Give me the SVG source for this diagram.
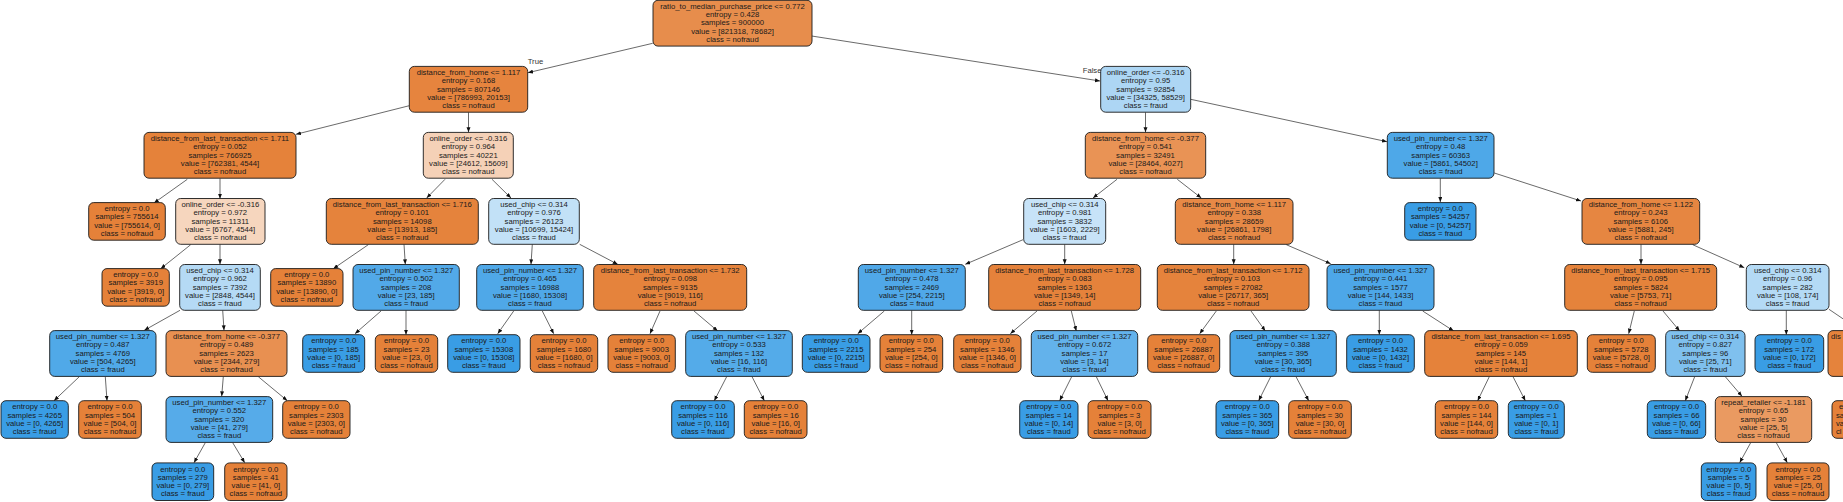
<svg xmlns="http://www.w3.org/2000/svg" width="1843" height="502" viewBox="0 0 1843 502">
<style>
.n rect{stroke:#1a1a1a;stroke-width:0.9}
text{font-family:"Liberation Sans",Arial,Helvetica,sans-serif;font-size:7.7px;fill:#1a1a1a;text-anchor:middle}
.e line{stroke:#2a2a2a;stroke-width:0.7;marker-end:url(#ah)}
.o{fill:#e58139}.b{fill:#399de5}
.lbl{text-anchor:start;fill:#333}
</style>
<defs>
<marker id="ah" markerUnits="userSpaceOnUse" markerWidth="6" markerHeight="5" refX="5" refY="2" orient="auto"><path d="M0,0 L5,2 L0,4 z" fill="#111"/></marker>
</defs>
<rect width="1843" height="502" fill="#fff"/>
<text class="lbl" x="527.7" y="64">True</text>
<text class="lbl" x="1082.7" y="73">False</text>
<g id="edges" class="e">
<line x1="652.7" y1="43.3" x2="528" y2="72.7"/>
<line x1="811.7" y1="36" x2="1100" y2="81"/>
<line x1="409.3" y1="105.7" x2="296" y2="134.3"/>
<line x1="468.5" y1="112.3" x2="468.5" y2="132.3"/>
<line x1="1145.5" y1="112.3" x2="1145.5" y2="132.3"/>
<line x1="1190.7" y1="99.3" x2="1387" y2="141.7"/>
<line x1="187.3" y1="179.3" x2="154" y2="203"/>
<line x1="220" y1="178.3" x2="220" y2="198.7"/>
<line x1="445" y1="179.3" x2="426.7" y2="198"/>
<line x1="492" y1="179.3" x2="511" y2="198"/>
<line x1="1117" y1="179.3" x2="1093" y2="198"/>
<line x1="1177.3" y1="179.3" x2="1201.3" y2="198"/>
<line x1="1440.3" y1="178.3" x2="1440.3" y2="202"/>
<line x1="1494.3" y1="173" x2="1581" y2="201"/>
<line x1="190.7" y1="244.7" x2="160.7" y2="268.7"/>
<line x1="220" y1="244.3" x2="220" y2="264.3"/>
<line x1="368.3" y1="244.7" x2="333.3" y2="268.7"/>
<line x1="404" y1="244.3" x2="405.3" y2="264.3"/>
<line x1="532.3" y1="244.3" x2="531" y2="264.3"/>
<line x1="579.7" y1="244.3" x2="617.7" y2="264.3"/>
<line x1="1023" y1="239.7" x2="965.3" y2="264.3"/>
<line x1="1064.7" y1="244.3" x2="1064.7" y2="264.3"/>
<line x1="1233.7" y1="244.3" x2="1233.7" y2="264.3"/>
<line x1="1286.3" y1="244.7" x2="1330.7" y2="263.7"/>
<line x1="1641" y1="244.3" x2="1641" y2="264.3"/>
<line x1="1692.7" y1="244.7" x2="1744.3" y2="267.7"/>
<line x1="180" y1="310.3" x2="144.3" y2="330.3"/>
<line x1="222.7" y1="310.3" x2="224" y2="330.3"/>
<line x1="381" y1="311" x2="355" y2="333.7"/>
<line x1="406" y1="310.3" x2="406" y2="334.7"/>
<line x1="513.7" y1="311" x2="497.7" y2="333.7"/>
<line x1="542.3" y1="311" x2="553.7" y2="333.7"/>
<line x1="660" y1="311" x2="650" y2="333.7"/>
<line x1="694" y1="311" x2="717.7" y2="331"/>
<line x1="884.3" y1="311" x2="857.7" y2="333.7"/>
<line x1="911.7" y1="310.3" x2="911.7" y2="334.7"/>
<line x1="1037" y1="311" x2="1010.3" y2="333.7"/>
<line x1="1071.3" y1="311" x2="1076.3" y2="331"/>
<line x1="1216.3" y1="311" x2="1199.7" y2="333.7"/>
<line x1="1251" y1="311" x2="1265.3" y2="331"/>
<line x1="1379.3" y1="310.3" x2="1379.3" y2="334.7"/>
<line x1="1422.7" y1="311" x2="1453.7" y2="331"/>
<line x1="1634.3" y1="311" x2="1628.7" y2="333.7"/>
<line x1="1663" y1="311" x2="1679.7" y2="331"/>
<line x1="1786.3" y1="310.3" x2="1786.3" y2="334.7"/>
<line x1="1829" y1="309.3" x2="1861" y2="331"/>
<line x1="79.3" y1="376.7" x2="54" y2="400.7"/>
<line x1="105.3" y1="376.7" x2="107" y2="400.7"/>
<line x1="223.3" y1="376.7" x2="221.7" y2="396.3"/>
<line x1="258.3" y1="376.7" x2="287.3" y2="400.7"/>
<line x1="726.7" y1="376.7" x2="714.3" y2="400.7"/>
<line x1="752" y1="376.7" x2="764.3" y2="400.7"/>
<line x1="1071.7" y1="376.7" x2="1059.7" y2="400.7"/>
<line x1="1096.3" y1="376.7" x2="1108" y2="400.7"/>
<line x1="1270.7" y1="376.7" x2="1258.7" y2="400.7"/>
<line x1="1296" y1="376.7" x2="1308.7" y2="400.7"/>
<line x1="1489.3" y1="376.7" x2="1477.7" y2="400.7"/>
<line x1="1513" y1="376.7" x2="1525.3" y2="400.7"/>
<line x1="1694.7" y1="376.7" x2="1685.3" y2="400.7"/>
<line x1="1725.3" y1="376.7" x2="1742" y2="396.3"/>
<line x1="205.3" y1="442.7" x2="194" y2="462.7"/>
<line x1="232.7" y1="442.7" x2="244.7" y2="462.7"/>
<line x1="1750.7" y1="442.7" x2="1739.7" y2="462.7"/>
<line x1="1776.3" y1="442.7" x2="1787.3" y2="462.7"/>
</g>

<g id="n0" class="n"><rect x="653" y="0.3" width="159" height="45.8" rx="5" fill="#e78d4c"/><text y="8.9"><tspan x="732.5">ratio_to_median_purchase_price &lt;= 0.772</tspan><tspan x="732.5" dy="8.25">entropy = 0.428</tspan><tspan x="732.5" dy="8.25">samples = 900000</tspan><tspan x="732.5" dy="8.25">value = [821318, 78682]</tspan><tspan x="732.5" dy="8.25">class = nofraud</tspan></text></g>

<g id="n1" class="n"><rect x="409.3" y="66.4" width="118.4" height="45.8" rx="5" fill="#e6843e"/><text y="75"><tspan x="468.5">distance_from_home &lt;= 1.117</tspan><tspan x="468.5" dy="8.25">entropy = 0.168</tspan><tspan x="468.5" dy="8.25">samples = 807146</tspan><tspan x="468.5" dy="8.25">value = [786993, 20153]</tspan><tspan x="468.5" dy="8.25">class = nofraud</tspan></text></g>

<g id="n2" class="n"><rect x="1100.7" y="66.4" width="90" height="45.8" rx="5" fill="#add6f4"/><text y="75"><tspan x="1145.7">online_order &lt;= -0.316</tspan><tspan x="1145.7" dy="8.25">entropy = 0.95</tspan><tspan x="1145.7" dy="8.25">samples = 92854</tspan><tspan x="1145.7" dy="8.25">value = [34325, 58529]</tspan><tspan x="1145.7" dy="8.25">class = fraud</tspan></text></g>

<g id="n3" class="n"><rect x="144" y="132.4" width="152" height="45.8" rx="5" fill="#e5823a"/><text y="141"><tspan x="220">distance_from_last_transaction &lt;= 1.711</tspan><tspan x="220" dy="8.25">entropy = 0.052</tspan><tspan x="220" dy="8.25">samples = 766925</tspan><tspan x="220" dy="8.25">value = [762381, 4544]</tspan><tspan x="220" dy="8.25">class = nofraud</tspan></text></g>

<g id="n4" class="n"><rect x="423.3" y="132.4" width="90" height="45.8" rx="5" fill="#f5d1b7"/><text y="141"><tspan x="468.3">online_order &lt;= -0.316</tspan><tspan x="468.3" dy="8.25">entropy = 0.964</tspan><tspan x="468.3" dy="8.25">samples = 40221</tspan><tspan x="468.3" dy="8.25">value = [24612, 15609]</tspan><tspan x="468.3" dy="8.25">class = nofraud</tspan></text></g>

<g id="n5" class="n"><rect x="1085.3" y="132.4" width="120.4" height="45.8" rx="5" fill="#e99355"/><text y="141"><tspan x="1145.5">distance_from_home &lt;= -0.377</tspan><tspan x="1145.5" dy="8.25">entropy = 0.541</tspan><tspan x="1145.5" dy="8.25">samples = 32491</tspan><tspan x="1145.5" dy="8.25">value = [28464, 4027]</tspan><tspan x="1145.5" dy="8.25">class = nofraud</tspan></text></g>

<g id="n6" class="n"><rect x="1387.3" y="132.4" width="106.7" height="45.8" rx="5" fill="#4ea8e8"/><text y="141"><tspan x="1440.7">used_pin_number &lt;= 1.327</tspan><tspan x="1440.7" dy="8.25">entropy = 0.48</tspan><tspan x="1440.7" dy="8.25">samples = 60363</tspan><tspan x="1440.7" dy="8.25">value = [5861, 54502]</tspan><tspan x="1440.7" dy="8.25">class = fraud</tspan></text></g>

<g id="n7" class="n"><rect class="o" x="88.7" y="202.6" width="76.6" height="37.6" rx="5"/><text y="211.2"><tspan x="127">entropy = 0.0</tspan><tspan x="127" dy="8.25">samples = 755614</tspan><tspan x="127" dy="8.25">value = [755614, 0]</tspan><tspan x="127" dy="8.25">class = nofraud</tspan></text></g>

<g id="n8" class="n"><rect x="175.7" y="198.5" width="89.3" height="45.8" rx="5" fill="#f6d6be"/><text y="207.1"><tspan x="220.3">online_order &lt;= -0.316</tspan><tspan x="220.3" dy="8.25">entropy = 0.972</tspan><tspan x="220.3" dy="8.25">samples = 11311</tspan><tspan x="220.3" dy="8.25">value = [6767, 4544]</tspan><tspan x="220.3" dy="8.25">class = nofraud</tspan></text></g>

<g id="n9" class="n"><rect x="326.3" y="198.5" width="152" height="45.8" rx="5" fill="#e5833c"/><text y="207.1"><tspan x="402.3">distance_from_last_transaction &lt;= 1.716</tspan><tspan x="402.3" dy="8.25">entropy = 0.101</tspan><tspan x="402.3" dy="8.25">samples = 14098</tspan><tspan x="402.3" dy="8.25">value = [13913, 185]</tspan><tspan x="402.3" dy="8.25">class = nofraud</tspan></text></g>

<g id="n10" class="n"><rect x="488.7" y="198.5" width="90.6" height="45.8" rx="5" fill="#c2e1f7"/><text y="207.1"><tspan x="534">used_chip &lt;= 0.314</tspan><tspan x="534" dy="8.25">entropy = 0.976</tspan><tspan x="534" dy="8.25">samples = 26123</tspan><tspan x="534" dy="8.25">value = [10699, 15424]</tspan><tspan x="534" dy="8.25">class = fraud</tspan></text></g>

<g id="n11" class="n"><rect x="1023.7" y="198.5" width="82" height="45.8" rx="5" fill="#c7e3f8"/><text y="207.1"><tspan x="1064.7">used_chip &lt;= 0.314</tspan><tspan x="1064.7" dy="8.25">entropy = 0.981</tspan><tspan x="1064.7" dy="8.25">samples = 3832</tspan><tspan x="1064.7" dy="8.25">value = [1603, 2229]</tspan><tspan x="1064.7" dy="8.25">class = fraud</tspan></text></g>

<g id="n12" class="n"><rect x="1175.3" y="198.5" width="117.7" height="45.8" rx="5" fill="#e78946"/><text y="207.1"><tspan x="1234.2">distance_from_home &lt;= 1.117</tspan><tspan x="1234.2" dy="8.25">entropy = 0.338</tspan><tspan x="1234.2" dy="8.25">samples = 28659</tspan><tspan x="1234.2" dy="8.25">value = [26861, 1798]</tspan><tspan x="1234.2" dy="8.25">class = nofraud</tspan></text></g>

<g id="n13" class="n"><rect class="b" x="1404.7" y="202.6" width="71.3" height="37.6" rx="5"/><text y="211.2"><tspan x="1440.3">entropy = 0.0</tspan><tspan x="1440.3" dy="8.25">samples = 54257</tspan><tspan x="1440.3" dy="8.25">value = [0, 54257]</tspan><tspan x="1440.3" dy="8.25">class = fraud</tspan></text></g>

<g id="n14" class="n"><rect x="1582" y="198.5" width="117.7" height="45.8" rx="5" fill="#e68641"/><text y="207.1"><tspan x="1640.8">distance_from_home &lt;= 1.122</tspan><tspan x="1640.8" dy="8.25">entropy = 0.243</tspan><tspan x="1640.8" dy="8.25">samples = 6106</tspan><tspan x="1640.8" dy="8.25">value = [5881, 245]</tspan><tspan x="1640.8" dy="8.25">class = nofraud</tspan></text></g>

<g id="n15" class="n"><rect class="o" x="102" y="268.6" width="67.3" height="37.6" rx="5"/><text y="277.2"><tspan x="135.7">entropy = 0.0</tspan><tspan x="135.7" dy="8.25">samples = 3919</tspan><tspan x="135.7" dy="8.25">value = [3919, 0]</tspan><tspan x="135.7" dy="8.25">class = nofraud</tspan></text></g>

<g id="n16" class="n"><rect x="179.7" y="264.5" width="80.6" height="45.8" rx="5" fill="#b5daf5"/><text y="273.1"><tspan x="220">used_chip &lt;= 0.314</tspan><tspan x="220" dy="8.25">entropy = 0.962</tspan><tspan x="220" dy="8.25">samples = 7392</tspan><tspan x="220" dy="8.25">value = [2848, 4544]</tspan><tspan x="220" dy="8.25">class = fraud</tspan></text></g>

<g id="n17" class="n"><rect class="o" x="270.7" y="268.6" width="72.3" height="37.6" rx="5"/><text y="277.2"><tspan x="306.8">entropy = 0.0</tspan><tspan x="306.8" dy="8.25">samples = 13890</tspan><tspan x="306.8" dy="8.25">value = [13890, 0]</tspan><tspan x="306.8" dy="8.25">class = nofraud</tspan></text></g>

<g id="n18" class="n"><rect x="353" y="264.5" width="106.3" height="45.8" rx="5" fill="#52a9e8"/><text y="273.1"><tspan x="406.2">used_pin_number &lt;= 1.327</tspan><tspan x="406.2" dy="8.25">entropy = 0.502</tspan><tspan x="406.2" dy="8.25">samples = 208</tspan><tspan x="406.2" dy="8.25">value = [23, 185]</tspan><tspan x="406.2" dy="8.25">class = fraud</tspan></text></g>

<g id="n19" class="n"><rect x="476.7" y="264.5" width="106.6" height="45.8" rx="5" fill="#4fa8e8"/><text y="273.1"><tspan x="530">used_pin_number &lt;= 1.327</tspan><tspan x="530" dy="8.25">entropy = 0.465</tspan><tspan x="530" dy="8.25">samples = 16988</tspan><tspan x="530" dy="8.25">value = [1680, 15308]</tspan><tspan x="530" dy="8.25">class = fraud</tspan></text></g>

<g id="n20" class="n"><rect x="593.7" y="264.5" width="153" height="45.8" rx="5" fill="#e5833c"/><text y="273.1"><tspan x="670.2">distance_from_last_transaction &lt;= 1.732</tspan><tspan x="670.2" dy="8.25">entropy = 0.098</tspan><tspan x="670.2" dy="8.25">samples = 9135</tspan><tspan x="670.2" dy="8.25">value = [9019, 116]</tspan><tspan x="670.2" dy="8.25">class = nofraud</tspan></text></g>

<g id="n21" class="n"><rect x="858.3" y="264.5" width="107" height="45.8" rx="5" fill="#50a8e8"/><text y="273.1"><tspan x="911.8">used_pin_number &lt;= 1.327</tspan><tspan x="911.8" dy="8.25">entropy = 0.478</tspan><tspan x="911.8" dy="8.25">samples = 2469</tspan><tspan x="911.8" dy="8.25">value = [254, 2215]</tspan><tspan x="911.8" dy="8.25">class = fraud</tspan></text></g>

<g id="n22" class="n"><rect x="988.7" y="264.5" width="152" height="45.8" rx="5" fill="#e5823b"/><text y="273.1"><tspan x="1064.7">distance_from_last_transaction &lt;= 1.728</tspan><tspan x="1064.7" dy="8.25">entropy = 0.083</tspan><tspan x="1064.7" dy="8.25">samples = 1363</tspan><tspan x="1064.7" dy="8.25">value = [1349, 14]</tspan><tspan x="1064.7" dy="8.25">class = nofraud</tspan></text></g>

<g id="n23" class="n"><rect x="1157.3" y="264.5" width="151.7" height="45.8" rx="5" fill="#e5833c"/><text y="273.1"><tspan x="1233.2">distance_from_last_transaction &lt;= 1.712</tspan><tspan x="1233.2" dy="8.25">entropy = 0.103</tspan><tspan x="1233.2" dy="8.25">samples = 27082</tspan><tspan x="1233.2" dy="8.25">value = [26717, 365]</tspan><tspan x="1233.2" dy="8.25">class = nofraud</tspan></text></g>

<g id="n24" class="n"><rect x="1327" y="264.5" width="107" height="45.8" rx="5" fill="#4da7e8"/><text y="273.1"><tspan x="1380.5">used_pin_number &lt;= 1.327</tspan><tspan x="1380.5" dy="8.25">entropy = 0.441</tspan><tspan x="1380.5" dy="8.25">samples = 1577</tspan><tspan x="1380.5" dy="8.25">value = [144, 1433]</tspan><tspan x="1380.5" dy="8.25">class = fraud</tspan></text></g>

<g id="n25" class="n"><rect x="1564.7" y="264.5" width="152" height="45.8" rx="5" fill="#e5833b"/><text y="273.1"><tspan x="1640.7">distance_from_last_transaction &lt;= 1.715</tspan><tspan x="1640.7" dy="8.25">entropy = 0.095</tspan><tspan x="1640.7" dy="8.25">samples = 5824</tspan><tspan x="1640.7" dy="8.25">value = [5753, 71]</tspan><tspan x="1640.7" dy="8.25">class = nofraud</tspan></text></g>

<g id="n26" class="n"><rect x="1746.3" y="264.5" width="82.7" height="45.8" rx="5" fill="#b4daf5"/><text y="273.1"><tspan x="1787.7">used_chip &lt;= 0.314</tspan><tspan x="1787.7" dy="8.25">entropy = 0.96</tspan><tspan x="1787.7" dy="8.25">samples = 282</tspan><tspan x="1787.7" dy="8.25">value = [108, 174]</tspan><tspan x="1787.7" dy="8.25">class = fraud</tspan></text></g>

<g id="n27" class="n"><rect x="49.7" y="330.6" width="106.3" height="45.8" rx="5" fill="#50a9e8"/><text y="339.2"><tspan x="102.8">used_pin_number &lt;= 1.327</tspan><tspan x="102.8" dy="8.25">entropy = 0.487</tspan><tspan x="102.8" dy="8.25">samples = 4769</tspan><tspan x="102.8" dy="8.25">value = [504, 4265]</tspan><tspan x="102.8" dy="8.25">class = fraud</tspan></text></g>

<g id="n28" class="n"><rect x="166" y="330.6" width="121" height="45.8" rx="5" fill="#e89051"/><text y="339.2"><tspan x="226.5">distance_from_home &lt;= -0.377</tspan><tspan x="226.5" dy="8.25">entropy = 0.489</tspan><tspan x="226.5" dy="8.25">samples = 2623</tspan><tspan x="226.5" dy="8.25">value = [2344, 279]</tspan><tspan x="226.5" dy="8.25">class = nofraud</tspan></text></g>

<g id="n29" class="n"><rect class="b" x="302.7" y="334.7" width="62" height="37.6" rx="5"/><text y="343.3"><tspan x="333.7">entropy = 0.0</tspan><tspan x="333.7" dy="8.25">samples = 185</tspan><tspan x="333.7" dy="8.25">value = [0, 185]</tspan><tspan x="333.7" dy="8.25">class = fraud</tspan></text></g>

<g id="n30" class="n"><rect class="o" x="375.3" y="334.7" width="62.4" height="37.6" rx="5"/><text y="343.3"><tspan x="406.5">entropy = 0.0</tspan><tspan x="406.5" dy="8.25">samples = 23</tspan><tspan x="406.5" dy="8.25">value = [23, 0]</tspan><tspan x="406.5" dy="8.25">class = nofraud</tspan></text></g>

<g id="n31" class="n"><rect class="b" x="447.7" y="334.7" width="72.3" height="37.6" rx="5"/><text y="343.3"><tspan x="483.8">entropy = 0.0</tspan><tspan x="483.8" dy="8.25">samples = 15308</tspan><tspan x="483.8" dy="8.25">value = [0, 15308]</tspan><tspan x="483.8" dy="8.25">class = fraud</tspan></text></g>

<g id="n32" class="n"><rect class="o" x="530.3" y="334.7" width="67.4" height="37.6" rx="5"/><text y="343.3"><tspan x="564">entropy = 0.0</tspan><tspan x="564" dy="8.25">samples = 1680</tspan><tspan x="564" dy="8.25">value = [1680, 0]</tspan><tspan x="564" dy="8.25">class = nofraud</tspan></text></g>

<g id="n33" class="n"><rect class="o" x="608" y="334.7" width="67.3" height="37.6" rx="5"/><text y="343.3"><tspan x="641.7">entropy = 0.0</tspan><tspan x="641.7" dy="8.25">samples = 9003</tspan><tspan x="641.7" dy="8.25">value = [9003, 0]</tspan><tspan x="641.7" dy="8.25">class = nofraud</tspan></text></g>

<g id="n34" class="n"><rect x="685.7" y="330.6" width="106.6" height="45.8" rx="5" fill="#54abe9"/><text y="339.2"><tspan x="739">used_pin_number &lt;= 1.327</tspan><tspan x="739" dy="8.25">entropy = 0.533</tspan><tspan x="739" dy="8.25">samples = 132</tspan><tspan x="739" dy="8.25">value = [16, 116]</tspan><tspan x="739" dy="8.25">class = fraud</tspan></text></g>

<g id="n35" class="n"><rect class="b" x="802.3" y="334.7" width="67.7" height="37.6" rx="5"/><text y="343.3"><tspan x="836.2">entropy = 0.0</tspan><tspan x="836.2" dy="8.25">samples = 2215</tspan><tspan x="836.2" dy="8.25">value = [0, 2215]</tspan><tspan x="836.2" dy="8.25">class = fraud</tspan></text></g>

<g id="n36" class="n"><rect class="o" x="880" y="334.7" width="62.7" height="37.6" rx="5"/><text y="343.3"><tspan x="911.3">entropy = 0.0</tspan><tspan x="911.3" dy="8.25">samples = 254</tspan><tspan x="911.3" dy="8.25">value = [254, 0]</tspan><tspan x="911.3" dy="8.25">class = nofraud</tspan></text></g>

<g id="n37" class="n"><rect class="o" x="953.7" y="334.7" width="67.3" height="37.6" rx="5"/><text y="343.3"><tspan x="987.3">entropy = 0.0</tspan><tspan x="987.3" dy="8.25">samples = 1346</tspan><tspan x="987.3" dy="8.25">value = [1346, 0]</tspan><tspan x="987.3" dy="8.25">class = nofraud</tspan></text></g>

<g id="n38" class="n"><rect x="1031.3" y="330.6" width="106.4" height="45.8" rx="5" fill="#63b2eb"/><text y="339.2"><tspan x="1084.5">used_pin_number &lt;= 1.327</tspan><tspan x="1084.5" dy="8.25">entropy = 0.672</tspan><tspan x="1084.5" dy="8.25">samples = 17</tspan><tspan x="1084.5" dy="8.25">value = [3, 14]</tspan><tspan x="1084.5" dy="8.25">class = fraud</tspan></text></g>

<g id="n39" class="n"><rect class="o" x="1147.7" y="334.7" width="72" height="37.6" rx="5"/><text y="343.3"><tspan x="1183.7">entropy = 0.0</tspan><tspan x="1183.7" dy="8.25">samples = 26887</tspan><tspan x="1183.7" dy="8.25">value = [26887, 0]</tspan><tspan x="1183.7" dy="8.25">class = nofraud</tspan></text></g>

<g id="n40" class="n"><rect x="1230" y="330.6" width="106.3" height="45.8" rx="5" fill="#49a5e7"/><text y="339.2"><tspan x="1283.2">used_pin_number &lt;= 1.327</tspan><tspan x="1283.2" dy="8.25">entropy = 0.388</tspan><tspan x="1283.2" dy="8.25">samples = 395</tspan><tspan x="1283.2" dy="8.25">value = [30, 365]</tspan><tspan x="1283.2" dy="8.25">class = fraud</tspan></text></g>

<g id="n41" class="n"><rect class="b" x="1346.7" y="334.7" width="67.6" height="37.6" rx="5"/><text y="343.3"><tspan x="1380.5">entropy = 0.0</tspan><tspan x="1380.5" dy="8.25">samples = 1432</tspan><tspan x="1380.5" dy="8.25">value = [0, 1432]</tspan><tspan x="1380.5" dy="8.25">class = fraud</tspan></text></g>

<g id="n42" class="n"><rect x="1424.7" y="330.6" width="152.6" height="45.8" rx="5" fill="#e5823a"/><text y="339.2"><tspan x="1501">distance_from_last_transaction &lt;= 1.695</tspan><tspan x="1501" dy="8.25">entropy = 0.059</tspan><tspan x="1501" dy="8.25">samples = 145</tspan><tspan x="1501" dy="8.25">value = [144, 1]</tspan><tspan x="1501" dy="8.25">class = nofraud</tspan></text></g>

<g id="n43" class="n"><rect class="o" x="1587.3" y="334.7" width="68" height="37.6" rx="5"/><text y="343.3"><tspan x="1621.3">entropy = 0.0</tspan><tspan x="1621.3" dy="8.25">samples = 5728</tspan><tspan x="1621.3" dy="8.25">value = [5728, 0]</tspan><tspan x="1621.3" dy="8.25">class = nofraud</tspan></text></g>

<g id="n44" class="n"><rect x="1665.7" y="330.6" width="79.3" height="45.8" rx="5" fill="#7fc0ee"/><text y="339.2"><tspan x="1705.3">used_chip &lt;= 0.314</tspan><tspan x="1705.3" dy="8.25">entropy = 0.827</tspan><tspan x="1705.3" dy="8.25">samples = 96</tspan><tspan x="1705.3" dy="8.25">value = [25, 71]</tspan><tspan x="1705.3" dy="8.25">class = fraud</tspan></text></g>

<g id="n45" class="n"><rect class="b" x="1755" y="334.7" width="68.7" height="37.6" rx="5"/><text y="343.3"><tspan x="1789.3">entropy = 0.0</tspan><tspan x="1789.3" dy="8.25">samples = 172</tspan><tspan x="1789.3" dy="8.25">value = [0, 172]</tspan><tspan x="1789.3" dy="8.25">class = fraud</tspan></text></g>

<g id="n46" class="n"><rect x="1828" y="330.6" width="152" height="45.8" rx="5" fill="#e5833c"/><text class="lbl" x="1831" y="339.2" style="fill:#1a1a1a">dis</text></g>

<g id="n47" class="n"><rect class="b" x="1" y="400.7" width="67.3" height="37.6" rx="5"/><text y="409.3"><tspan x="34.7">entropy = 0.0</tspan><tspan x="34.7" dy="8.25">samples = 4265</tspan><tspan x="34.7" dy="8.25">value = [0, 4265]</tspan><tspan x="34.7" dy="8.25">class = fraud</tspan></text></g>

<g id="n48" class="n"><rect class="o" x="78.7" y="400.7" width="62.6" height="37.6" rx="5"/><text y="409.3"><tspan x="110">entropy = 0.0</tspan><tspan x="110" dy="8.25">samples = 504</tspan><tspan x="110" dy="8.25">value = [504, 0]</tspan><tspan x="110" dy="8.25">class = nofraud</tspan></text></g>

<g id="n49" class="n"><rect x="166" y="396.6" width="106.7" height="45.8" rx="5" fill="#56abe9"/><text y="405.2"><tspan x="219.3">used_pin_number &lt;= 1.327</tspan><tspan x="219.3" dy="8.25">entropy = 0.552</tspan><tspan x="219.3" dy="8.25">samples = 320</tspan><tspan x="219.3" dy="8.25">value = [41, 279]</tspan><tspan x="219.3" dy="8.25">class = fraud</tspan></text></g>

<g id="n50" class="n"><rect class="o" x="282.7" y="400.7" width="67.3" height="37.6" rx="5"/><text y="409.3"><tspan x="316.3">entropy = 0.0</tspan><tspan x="316.3" dy="8.25">samples = 2303</tspan><tspan x="316.3" dy="8.25">value = [2303, 0]</tspan><tspan x="316.3" dy="8.25">class = nofraud</tspan></text></g>

<g id="n51" class="n"><rect class="b" x="671.7" y="400.7" width="62.6" height="37.6" rx="5"/><text y="409.3"><tspan x="703">entropy = 0.0</tspan><tspan x="703" dy="8.25">samples = 116</tspan><tspan x="703" dy="8.25">value = [0, 116]</tspan><tspan x="703" dy="8.25">class = fraud</tspan></text></g>

<g id="n52" class="n"><rect class="o" x="744.3" y="400.7" width="62.7" height="37.6" rx="5"/><text y="409.3"><tspan x="775.7">entropy = 0.0</tspan><tspan x="775.7" dy="8.25">samples = 16</tspan><tspan x="775.7" dy="8.25">value = [16, 0]</tspan><tspan x="775.7" dy="8.25">class = nofraud</tspan></text></g>

<g id="n53" class="n"><rect class="b" x="1019.7" y="400.7" width="58.3" height="37.6" rx="5"/><text y="409.3"><tspan x="1048.8">entropy = 0.0</tspan><tspan x="1048.8" dy="8.25">samples = 14</tspan><tspan x="1048.8" dy="8.25">value = [0, 14]</tspan><tspan x="1048.8" dy="8.25">class = fraud</tspan></text></g>

<g id="n54" class="n"><rect class="o" x="1088" y="400.7" width="63" height="37.6" rx="5"/><text y="409.3"><tspan x="1119.5">entropy = 0.0</tspan><tspan x="1119.5" dy="8.25">samples = 3</tspan><tspan x="1119.5" dy="8.25">value = [3, 0]</tspan><tspan x="1119.5" dy="8.25">class = nofraud</tspan></text></g>

<g id="n55" class="n"><rect class="b" x="1216" y="400.7" width="62.7" height="37.6" rx="5"/><text y="409.3"><tspan x="1247.3">entropy = 0.0</tspan><tspan x="1247.3" dy="8.25">samples = 365</tspan><tspan x="1247.3" dy="8.25">value = [0, 365]</tspan><tspan x="1247.3" dy="8.25">class = fraud</tspan></text></g>

<g id="n56" class="n"><rect class="o" x="1288.7" y="400.7" width="62.6" height="37.6" rx="5"/><text y="409.3"><tspan x="1320">entropy = 0.0</tspan><tspan x="1320" dy="8.25">samples = 30</tspan><tspan x="1320" dy="8.25">value = [30, 0]</tspan><tspan x="1320" dy="8.25">class = nofraud</tspan></text></g>

<g id="n57" class="n"><rect class="o" x="1435.3" y="400.7" width="62.4" height="37.6" rx="5"/><text y="409.3"><tspan x="1466.5">entropy = 0.0</tspan><tspan x="1466.5" dy="8.25">samples = 144</tspan><tspan x="1466.5" dy="8.25">value = [144, 0]</tspan><tspan x="1466.5" dy="8.25">class = nofraud</tspan></text></g>

<g id="n58" class="n"><rect class="b" x="1508.3" y="400.7" width="56" height="37.6" rx="5"/><text y="409.3"><tspan x="1536.3">entropy = 0.0</tspan><tspan x="1536.3" dy="8.25">samples = 1</tspan><tspan x="1536.3" dy="8.25">value = [0, 1]</tspan><tspan x="1536.3" dy="8.25">class = fraud</tspan></text></g>

<g id="n59" class="n"><rect class="b" x="1647.3" y="400.7" width="58.4" height="37.6" rx="5"/><text y="409.3"><tspan x="1676.5">entropy = 0.0</tspan><tspan x="1676.5" dy="8.25">samples = 66</tspan><tspan x="1676.5" dy="8.25">value = [0, 66]</tspan><tspan x="1676.5" dy="8.25">class = fraud</tspan></text></g>

<g id="n60" class="n"><rect x="1715.3" y="396.6" width="96.4" height="45.8" rx="5" fill="#ea9a61"/><text y="405.2"><tspan x="1763.5">repeat_retailer &lt;= -1.181</tspan><tspan x="1763.5" dy="8.25">entropy = 0.65</tspan><tspan x="1763.5" dy="8.25">samples = 30</tspan><tspan x="1763.5" dy="8.25">value = [25, 5]</tspan><tspan x="1763.5" dy="8.25">class = nofraud</tspan></text></g>

<g id="n61" class="n"><rect class="o" x="1832" y="400.7" width="70" height="37.6" rx="5"/><text class="lbl" y="409.3" style="fill:#1a1a1a"><tspan x="1839">e</tspan><tspan x="1836" dy="8.25">sa</tspan><tspan x="1836" dy="8.25">va</tspan><tspan x="1836" dy="8.25">cl</tspan></text></g>

<g id="n62" class="n"><rect class="b" x="152" y="462.9" width="61.7" height="37.6" rx="5"/><text y="471.5"><tspan x="182.8">entropy = 0.0</tspan><tspan x="182.8" dy="8.25">samples = 279</tspan><tspan x="182.8" dy="8.25">value = [0, 279]</tspan><tspan x="182.8" dy="8.25">class = fraud</tspan></text></g>

<g id="n63" class="n"><rect class="o" x="224.7" y="462.9" width="62.3" height="37.6" rx="5"/><text y="471.5"><tspan x="255.8">entropy = 0.0</tspan><tspan x="255.8" dy="8.25">samples = 41</tspan><tspan x="255.8" dy="8.25">value = [41, 0]</tspan><tspan x="255.8" dy="8.25">class = nofraud</tspan></text></g>

<g id="n64" class="n"><rect class="b" x="1701.3" y="462.9" width="54.7" height="37.6" rx="5"/><text y="471.5"><tspan x="1728.7">entropy = 0.0</tspan><tspan x="1728.7" dy="8.25">samples = 5</tspan><tspan x="1728.7" dy="8.25">value = [0, 5]</tspan><tspan x="1728.7" dy="8.25">class = fraud</tspan></text></g>

<g id="n65" class="n"><rect class="o" x="1767" y="462.9" width="62" height="37.6" rx="5"/><text y="471.5"><tspan x="1798">entropy = 0.0</tspan><tspan x="1798" dy="8.25">samples = 25</tspan><tspan x="1798" dy="8.25">value = [25, 0]</tspan><tspan x="1798" dy="8.25">class = nofraud</tspan></text></g>
</svg>
